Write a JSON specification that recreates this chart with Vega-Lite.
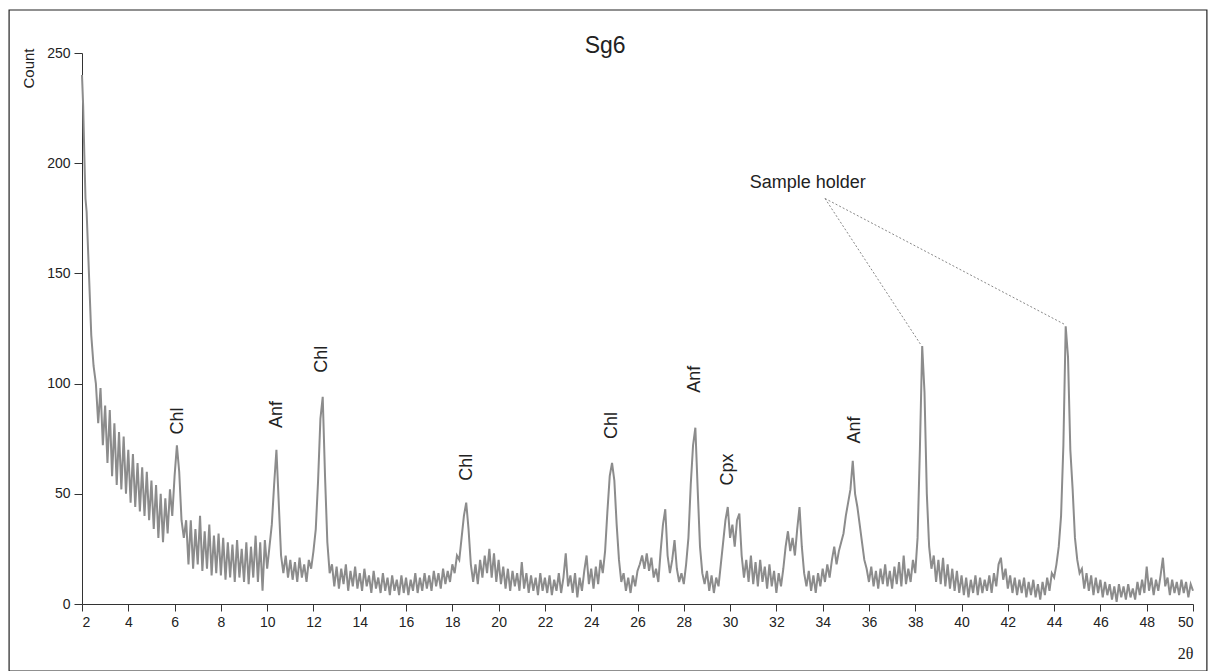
{
  "$schema": "https://vega.github.io/schema/vega-lite/v6.json",
  "width": 1111,
  "height": 551,
  "autosize": "none",
  "padding": {"left": 82, "top": 53, "right": 15, "bottom": 67},
  "config": {
    "font": "Liberation Sans",
    "view": {"stroke": null},
    "axis": {"grid": false, "domainColor": "#333", "tickColor": "#333", "labelColor": "#222", "labelFontSize": 14, "titleColor": "#222", "titleFontWeight": "normal"}
  },
  "datasets": {
    "xrd": [
      {"theta":2.0,"count":240},{"theta":2.05,"count":226},{"theta":2.1,"count":204},{"theta":2.15,"count":184},{"theta":2.2,"count":178},{"theta":2.3,"count":150},{"theta":2.4,"count":122},{"theta":2.5,"count":108},{"theta":2.6,"count":100},{"theta":2.7,"count":82},{"theta":2.8,"count":98},{"theta":2.9,"count":72},{"theta":3.0,"count":90},
      {"theta":3.1,"count":64},{"theta":3.2,"count":88},{"theta":3.3,"count":58},{"theta":3.4,"count":82},{"theta":3.5,"count":54},{"theta":3.6,"count":78},{"theta":3.7,"count":52},{"theta":3.8,"count":76},{"theta":3.9,"count":50},{"theta":4.0,"count":70},
      {"theta":4.1,"count":46},{"theta":4.2,"count":68},{"theta":4.3,"count":44},{"theta":4.4,"count":64},{"theta":4.5,"count":42},{"theta":4.6,"count":62},{"theta":4.7,"count":40},{"theta":4.8,"count":60},{"theta":4.9,"count":38},{"theta":5.0,"count":56},
      {"theta":5.1,"count":34},{"theta":5.2,"count":54},{"theta":5.3,"count":30},{"theta":5.4,"count":50},{"theta":5.5,"count":28},{"theta":5.6,"count":48},{"theta":5.7,"count":32},{"theta":5.8,"count":52},{"theta":5.9,"count":40},{"theta":6.0,"count":58},
      {"theta":6.1,"count":72},{"theta":6.2,"count":60},{"theta":6.3,"count":38},{"theta":6.4,"count":30},
      {"theta":6.5,"count":38},{"theta":6.6,"count":18},{"theta":6.7,"count":38},{"theta":6.8,"count":16},{"theta":6.9,"count":34},{"theta":7.0,"count":18},{"theta":7.1,"count":40},{"theta":7.2,"count":15},{"theta":7.3,"count":33},{"theta":7.4,"count":16},{"theta":7.5,"count":36},{"theta":7.6,"count":13},{"theta":7.7,"count":31},{"theta":7.8,"count":14},{"theta":7.9,"count":32},{"theta":8.0,"count":13},
      {"theta":8.1,"count":30},{"theta":8.2,"count":11},{"theta":8.3,"count":28},{"theta":8.4,"count":12},{"theta":8.5,"count":27},{"theta":8.6,"count":10},{"theta":8.7,"count":29},{"theta":8.8,"count":12},{"theta":8.9,"count":25},{"theta":9.0,"count":10},{"theta":9.1,"count":28},{"theta":9.2,"count":9},{"theta":9.3,"count":26},{"theta":9.4,"count":12},{"theta":9.5,"count":31},{"theta":9.6,"count":10},{"theta":9.7,"count":28},{"theta":9.8,"count":6},{"theta":9.9,"count":29},{"theta":10.0,"count":16},
      {"theta":10.1,"count":26},{"theta":10.2,"count":36},{"theta":10.3,"count":54},{"theta":10.4,"count":70},{"theta":10.5,"count":46},{"theta":10.6,"count":22},{"theta":10.7,"count":14},
      {"theta":10.8,"count":22},{"theta":10.9,"count":12},{"theta":11.0,"count":20},{"theta":11.1,"count":11},{"theta":11.2,"count":19},{"theta":11.3,"count":10},{"theta":11.4,"count":21},{"theta":11.5,"count":12},{"theta":11.6,"count":18},{"theta":11.7,"count":10},{"theta":11.8,"count":20},{"theta":11.9,"count":16},{"theta":12.0,"count":24},
      {"theta":12.1,"count":34},{"theta":12.2,"count":56},{"theta":12.3,"count":84},{"theta":12.4,"count":94},{"theta":12.5,"count":58},{"theta":12.6,"count":28},{"theta":12.7,"count":14},
      {"theta":12.8,"count":18},{"theta":12.9,"count":8},{"theta":13.0,"count":17},{"theta":13.1,"count":7},{"theta":13.2,"count":16},{"theta":13.3,"count":9},{"theta":13.4,"count":18},{"theta":13.5,"count":6},{"theta":13.6,"count":15},{"theta":13.7,"count":8},{"theta":13.8,"count":17},{"theta":13.9,"count":7},{"theta":14.0,"count":14},{"theta":14.1,"count":6},{"theta":14.2,"count":16},{"theta":14.3,"count":8},{"theta":14.4,"count":13},{"theta":14.5,"count":5},{"theta":14.6,"count":15},{"theta":14.7,"count":7},{"theta":14.8,"count":12},{"theta":14.9,"count":5},{"theta":15.0,"count":14},{"theta":15.1,"count":6},{"theta":15.2,"count":12},{"theta":15.3,"count":4},{"theta":15.4,"count":13},{"theta":15.5,"count":6},{"theta":15.6,"count":11},{"theta":15.7,"count":4},{"theta":15.8,"count":13},{"theta":15.9,"count":5},{"theta":16.0,"count":12},{"theta":16.1,"count":4},{"theta":16.2,"count":11},{"theta":16.3,"count":6},{"theta":16.4,"count":14},{"theta":16.5,"count":5},{"theta":16.6,"count":12},{"theta":16.7,"count":6},{"theta":16.8,"count":14},{"theta":16.9,"count":7},{"theta":17.0,"count":13},{"theta":17.1,"count":6},{"theta":17.2,"count":15},{"theta":17.3,"count":8},{"theta":17.4,"count":14},{"theta":17.5,"count":7},{"theta":17.6,"count":16},{"theta":17.7,"count":9},{"theta":17.8,"count":15},{"theta":17.9,"count":10},{"theta":18.0,"count":18},
      {"theta":18.1,"count":14},{"theta":18.2,"count":22},{"theta":18.3,"count":20},{"theta":18.4,"count":30},{"theta":18.5,"count":40},{"theta":18.6,"count":46},{"theta":18.7,"count":34},{"theta":18.8,"count":18},{"theta":18.9,"count":10},
      {"theta":19.0,"count":18},{"theta":19.1,"count":9},{"theta":19.2,"count":20},{"theta":19.3,"count":12},{"theta":19.4,"count":22},{"theta":19.5,"count":14},{"theta":19.6,"count":25},{"theta":19.7,"count":12},{"theta":19.8,"count":23},{"theta":19.9,"count":10},{"theta":20.0,"count":20},{"theta":20.1,"count":9},{"theta":20.2,"count":17},{"theta":20.3,"count":7},{"theta":20.4,"count":16},{"theta":20.5,"count":6},{"theta":20.6,"count":15},{"theta":20.7,"count":8},{"theta":20.8,"count":14},{"theta":20.9,"count":6},{"theta":21.0,"count":19},
      {"theta":21.1,"count":7},{"theta":21.2,"count":14},{"theta":21.3,"count":5},{"theta":21.4,"count":13},{"theta":21.5,"count":6},{"theta":21.6,"count":12},{"theta":21.7,"count":4},{"theta":21.8,"count":14},{"theta":21.9,"count":6},{"theta":22.0,"count":12},{"theta":22.1,"count":5},{"theta":22.2,"count":13},{"theta":22.3,"count":4},{"theta":22.4,"count":11},{"theta":22.5,"count":6},{"theta":22.6,"count":14},{"theta":22.7,"count":5},{"theta":22.8,"count":12},{"theta":22.9,"count":23},{"theta":23.0,"count":8},{"theta":23.1,"count":13},{"theta":23.2,"count":5},{"theta":23.3,"count":14},{"theta":23.4,"count":3},{"theta":23.5,"count":12},{"theta":23.6,"count":6},{"theta":23.7,"count":15},{"theta":23.8,"count":22},{"theta":23.9,"count":9},{"theta":24.0,"count":16},{"theta":24.1,"count":7},{"theta":24.2,"count":17},{"theta":24.3,"count":9},{"theta":24.4,"count":20},{"theta":24.5,"count":14},
      {"theta":24.6,"count":24},{"theta":24.7,"count":42},{"theta":24.8,"count":58},{"theta":24.9,"count":64},{"theta":25.0,"count":56},{"theta":25.1,"count":36},{"theta":25.2,"count":20},{"theta":25.3,"count":10},
      {"theta":25.4,"count":14},{"theta":25.5,"count":6},{"theta":25.6,"count":12},{"theta":25.7,"count":5},{"theta":25.8,"count":13},{"theta":25.9,"count":8},{"theta":26.0,"count":15},
      {"theta":26.1,"count":18},{"theta":26.2,"count":22},{"theta":26.3,"count":16},{"theta":26.4,"count":23},{"theta":26.5,"count":15},{"theta":26.6,"count":21},{"theta":26.7,"count":12},
      {"theta":26.8,"count":16},{"theta":26.9,"count":10},{"theta":27.0,"count":24},{"theta":27.1,"count":36},{"theta":27.2,"count":43},{"theta":27.3,"count":22},{"theta":27.4,"count":14},{"theta":27.5,"count":20},{"theta":27.6,"count":29},{"theta":27.7,"count":16},{"theta":27.8,"count":10},{"theta":27.9,"count":14},{"theta":28.0,"count":9},{"theta":28.1,"count":18},
      {"theta":28.2,"count":30},{"theta":28.3,"count":54},{"theta":28.4,"count":72},{"theta":28.5,"count":80},{"theta":28.6,"count":52},{"theta":28.7,"count":26},{"theta":28.8,"count":14},
      {"theta":28.9,"count":9},{"theta":29.0,"count":15},{"theta":29.1,"count":6},{"theta":29.2,"count":13},{"theta":29.3,"count":5},{"theta":29.4,"count":12},{"theta":29.5,"count":8},{"theta":29.6,"count":18},
      {"theta":29.7,"count":28},{"theta":29.8,"count":38},{"theta":29.9,"count":44},{"theta":30.0,"count":30},{"theta":30.1,"count":36},{"theta":30.2,"count":26},{"theta":30.3,"count":38},{"theta":30.4,"count":41},{"theta":30.5,"count":22},{"theta":30.6,"count":12},
      {"theta":30.7,"count":20},{"theta":30.8,"count":10},{"theta":30.9,"count":22},{"theta":31.0,"count":9},{"theta":31.1,"count":19},{"theta":31.2,"count":8},{"theta":31.3,"count":20},{"theta":31.4,"count":10},{"theta":31.5,"count":17},{"theta":31.6,"count":7},{"theta":31.7,"count":18},{"theta":31.8,"count":8},{"theta":31.9,"count":15},{"theta":32.0,"count":5},{"theta":32.1,"count":14},{"theta":32.2,"count":8},{"theta":32.3,"count":16},
      {"theta":32.4,"count":26},{"theta":32.5,"count":33},{"theta":32.6,"count":24},{"theta":32.7,"count":30},{"theta":32.8,"count":22},{"theta":32.9,"count":34},{"theta":33.0,"count":44},{"theta":33.1,"count":26},{"theta":33.2,"count":14},
      {"theta":33.3,"count":8},{"theta":33.4,"count":15},{"theta":33.5,"count":6},{"theta":33.6,"count":13},{"theta":33.7,"count":5},{"theta":33.8,"count":14},{"theta":33.9,"count":8},{"theta":34.0,"count":16},{"theta":34.1,"count":10},{"theta":34.2,"count":18},{"theta":34.3,"count":12},
      {"theta":34.4,"count":20},{"theta":34.5,"count":26},{"theta":34.6,"count":18},{"theta":34.7,"count":24},{"theta":34.8,"count":28},{"theta":34.9,"count":32},{"theta":35.0,"count":40},{"theta":35.1,"count":46},{"theta":35.2,"count":52},{"theta":35.3,"count":65},{"theta":35.4,"count":50},{"theta":35.5,"count":44},{"theta":35.6,"count":36},{"theta":35.7,"count":28},{"theta":35.8,"count":20},{"theta":35.9,"count":16},
      {"theta":36.0,"count":10},{"theta":36.1,"count":17},{"theta":36.2,"count":8},{"theta":36.3,"count":15},{"theta":36.4,"count":7},{"theta":36.5,"count":16},{"theta":36.6,"count":9},{"theta":36.7,"count":18},{"theta":36.8,"count":8},{"theta":36.9,"count":15},{"theta":37.0,"count":7},{"theta":37.1,"count":17},{"theta":37.2,"count":9},{"theta":37.3,"count":19},{"theta":37.4,"count":8},{"theta":37.5,"count":22},{"theta":37.6,"count":9},{"theta":37.7,"count":16},{"theta":37.8,"count":10},{"theta":37.9,"count":20},{"theta":38.0,"count":14},
      {"theta":38.1,"count":30},{"theta":38.2,"count":70},{"theta":38.3,"count":117},{"theta":38.4,"count":96},{"theta":38.5,"count":50},{"theta":38.6,"count":26},{"theta":38.7,"count":16},
      {"theta":38.8,"count":22},{"theta":38.9,"count":10},{"theta":39.0,"count":20},{"theta":39.1,"count":9},{"theta":39.2,"count":21},{"theta":39.3,"count":8},{"theta":39.4,"count":18},{"theta":39.5,"count":7},{"theta":39.6,"count":16},{"theta":39.7,"count":6},{"theta":39.8,"count":15},{"theta":39.9,"count":5},{"theta":40.0,"count":13},
      {"theta":40.1,"count":4},{"theta":40.2,"count":12},{"theta":40.3,"count":3},{"theta":40.4,"count":11},{"theta":40.5,"count":5},{"theta":40.6,"count":13},{"theta":40.7,"count":4},{"theta":40.8,"count":12},{"theta":40.9,"count":5},{"theta":41.0,"count":11},{"theta":41.1,"count":6},{"theta":41.2,"count":13},{"theta":41.3,"count":5},{"theta":41.4,"count":14},{"theta":41.5,"count":8},
      {"theta":41.6,"count":18},{"theta":41.7,"count":21},{"theta":41.8,"count":11},{"theta":41.9,"count":16},{"theta":42.0,"count":7},
      {"theta":42.1,"count":13},{"theta":42.2,"count":5},{"theta":42.3,"count":12},{"theta":42.4,"count":4},{"theta":42.5,"count":11},{"theta":42.6,"count":5},{"theta":42.7,"count":12},{"theta":42.8,"count":3},{"theta":42.9,"count":10},{"theta":43.0,"count":4},{"theta":43.1,"count":11},{"theta":43.2,"count":3},{"theta":43.3,"count":9},{"theta":43.4,"count":2},{"theta":43.5,"count":10},{"theta":43.6,"count":4},{"theta":43.7,"count":12},{"theta":43.8,"count":6},
      {"theta":43.9,"count":14},{"theta":44.0,"count":12},{"theta":44.1,"count":18},{"theta":44.2,"count":26},{"theta":44.3,"count":40},{"theta":44.4,"count":72},{"theta":44.5,"count":126},{"theta":44.6,"count":112},{"theta":44.7,"count":70},{"theta":44.8,"count":52},{"theta":44.9,"count":30},{"theta":45.0,"count":20},{"theta":45.1,"count":14},
      {"theta":45.2,"count":16},{"theta":45.3,"count":7},{"theta":45.4,"count":14},{"theta":45.5,"count":6},{"theta":45.6,"count":13},{"theta":45.7,"count":4},{"theta":45.8,"count":12},{"theta":45.9,"count":5},{"theta":46.0,"count":11},{"theta":46.1,"count":3},{"theta":46.2,"count":10},{"theta":46.3,"count":4},
      {"theta":46.4,"count":9},{"theta":46.5,"count":2},{"theta":46.6,"count":8},{"theta":46.7,"count":1},{"theta":46.8,"count":9},{"theta":46.9,"count":3},{"theta":47.0,"count":8},{"theta":47.1,"count":2},{"theta":47.2,"count":9},{"theta":47.3,"count":3},{"theta":47.4,"count":7},{"theta":47.5,"count":2},{"theta":47.6,"count":10},{"theta":47.7,"count":4},{"theta":47.8,"count":11},{"theta":47.9,"count":5},
      {"theta":48.0,"count":17},{"theta":48.1,"count":6},{"theta":48.2,"count":12},{"theta":48.3,"count":4},{"theta":48.4,"count":11},{"theta":48.5,"count":6},{"theta":48.6,"count":13},{"theta":48.7,"count":21},{"theta":48.8,"count":8},{"theta":48.9,"count":12},{"theta":49.0,"count":4},{"theta":49.1,"count":11},{"theta":49.2,"count":5},{"theta":49.3,"count":10},{"theta":49.4,"count":4},{"theta":49.5,"count":11},{"theta":49.6,"count":5},{"theta":49.7,"count":10},{"theta":49.8,"count":3},{"theta":49.9,"count":9},{"theta":50.0,"count":6}
    ],
    "labels": [
      {"theta":6.15,"count":83,"label":"Chl"},
      {"theta":10.42,"count":86,"label":"Anf"},
      {"theta":12.37,"count":111,"label":"Chl"},
      {"theta":18.63,"count":62,"label":"Chl"},
      {"theta":24.9,"count":81,"label":"Chl"},
      {"theta":28.48,"count":102,"label":"Anf"},
      {"theta":29.9,"count":61,"label":"Cpx"},
      {"theta":35.4,"count":79,"label":"Anf"}
    ],
    "leaders": [
      {"theta":34.1,"count":184,"theta2":38.25,"count2":117.5},
      {"theta":34.1,"count":184,"theta2":44.5,"count2":126.6}
    ],
    "notes": [
      {"theta":30.85,"count":191,"label":"Sample holder"}
    ],
    "titles": [
      {"theta":24.6,"count":253,"label":"Sg6"}
    ],
    "frame": [
      {"theta":-1.15,"count":-30.5,"theta2":50.6,"count2":269.5}
    ]
  },
  "layer": [
    {
      "data": {"name": "frame"},
      "mark": {"type": "rect", "fill": null, "stroke": "#222", "strokeWidth": 1.2, "clip": false},
      "encoding": {
        "x": {"field": "theta", "type": "quantitative"},
        "x2": {"field": "theta2"},
        "y": {"field": "count", "type": "quantitative"},
        "y2": {"field": "count2"}
      }
    },
    {
      "data": {"name": "xrd"},
      "mark": {"type": "line", "color": "#8c8c8c", "strokeWidth": 2},
      "encoding": {
        "x": {"field": "theta", "type": "quantitative", "scale": {"domain": [2, 50], "nice": false, "zero": false},
          "axis": {"values": [2,4,6,8,10,12,14,16,18,20,22,24,26,28,30,32,34,36,38,40,42,44,46,48,50], "tickSize": 7, "labelPadding": 4, "title": "2θ", "titleFont": "Liberation Serif", "titleFontSize": 16, "titleAnchor": "end", "titleAlign": "right", "titlePadding": 16, "titleX": 1111}},
        "y": {"field": "count", "type": "quantitative", "scale": {"domain": [0, 250], "nice": false},
          "axis": {"values": [0,50,100,150,200,250], "tickSize": 8, "labelPadding": 4, "title": "Count", "titleFontSize": 15, "titleAnchor": "end", "titleAlign": "right", "titleY": -5, "titlePadding": 10}}
      }
    },
    {
      "data": {"name": "leaders"},
      "mark": {"type": "rule", "color": "#888", "strokeDash": [2, 2], "strokeWidth": 1},
      "encoding": {
        "x": {"field": "theta", "type": "quantitative"},
        "x2": {"field": "theta2"},
        "y": {"field": "count", "type": "quantitative"},
        "y2": {"field": "count2"}
      }
    },
    {
      "data": {"name": "labels"},
      "mark": {"type": "text", "angle": 270, "align": "center", "baseline": "middle", "fontSize": 18, "color": "#222"},
      "encoding": {
        "x": {"field": "theta", "type": "quantitative"},
        "y": {"field": "count", "type": "quantitative"},
        "text": {"field": "label"}
      }
    },
    {
      "data": {"name": "notes"},
      "mark": {"type": "text", "align": "left", "baseline": "middle", "fontSize": 18, "color": "#222"},
      "encoding": {
        "x": {"field": "theta", "type": "quantitative"},
        "y": {"field": "count", "type": "quantitative"},
        "text": {"field": "label"}
      }
    },
    {
      "data": {"name": "titles"},
      "mark": {"type": "text", "align": "center", "baseline": "middle", "fontSize": 23, "color": "#222", "clip": false},
      "encoding": {
        "x": {"field": "theta", "type": "quantitative"},
        "y": {"field": "count", "type": "quantitative"},
        "text": {"field": "label"}
      }
    }
  ]
}
